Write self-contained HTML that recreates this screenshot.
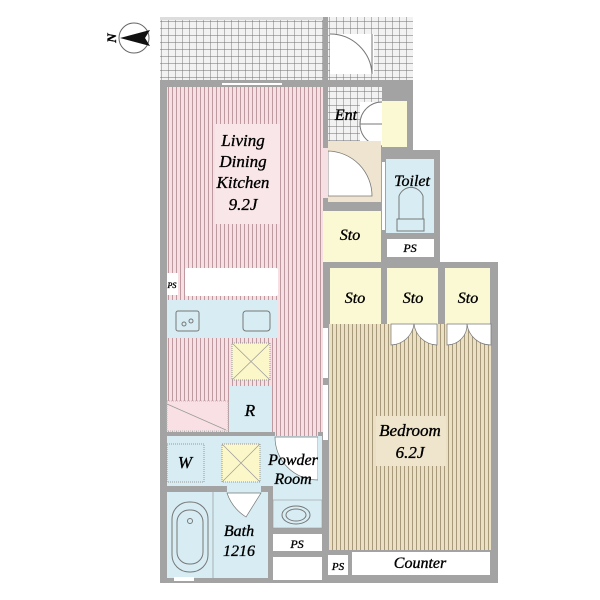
<!DOCTYPE html>
<html><head><meta charset="utf-8"><style>
html,body{margin:0;padding:0;background:#fff;}
svg{display:block;}
text{font-family:"Liberation Serif",serif;font-style:italic;fill:#000;stroke:#000;stroke-width:0.35;}
</style></head><body>
<svg width="600" height="600" viewBox="0 0 600 600" xmlns="http://www.w3.org/2000/svg">
<defs>
<pattern id="grid" width="7" height="7" patternUnits="userSpaceOnUse">
<rect width="7" height="7" fill="#f2f2f2"/><path d="M0 0H7M0 0V7" stroke="#6e6e6e" stroke-width="0.9"/>
</pattern>
<pattern id="pink" width="4" height="10" patternUnits="userSpaceOnUse">
<rect width="4" height="10" fill="#f7e0e3"/><path d="M0.5 0V10" stroke="#b08890" stroke-width="0.8"/>
</pattern>
<pattern id="beige" width="4" height="10" patternUnits="userSpaceOnUse">
<rect width="4" height="10" fill="#ece0c4"/><path d="M0.5 0V10" stroke="#958868" stroke-width="0.8"/>
</pattern>
</defs>

<!-- compass -->
<circle cx="134" cy="38" r="15" fill="#fff" stroke="#666" stroke-width="1"/>
<path d="M120 38 L150 30 L145 38 L150 46 Z" fill="#111"/>
<text x="112" y="38" font-size="13" font-style="normal" font-weight="bold" transform="rotate(-90 112 38)" text-anchor="middle" dy="4">N</text>

<!-- balcony -->
<rect x="160" y="17" width="253" height="64" fill="url(#grid)"/>
<rect x="160" y="17" width="163" height="3" fill="#ddd"/>
<rect x="323" y="17" width="5" height="70" fill="#a3a3a3"/>
<!-- ent door -->
<rect x="330" y="34" width="44" height="40" fill="#fff"/>
<path d="M330 34 A42 42 0 0 1 372 74" fill="none" stroke="#777"/>
<path d="M372 34 V74" stroke="#777"/>

<!-- walls -->
<rect x="160" y="80" width="168" height="503" fill="#a3a3a3"/>
<rect x="323" y="80" width="90" height="70" fill="#a3a3a3"/>
<rect x="381" y="150" width="59" height="118" fill="#a3a3a3"/>
<rect x="323" y="150" width="63" height="118" fill="#a3a3a3"/>
<rect x="323" y="262" width="175" height="321" fill="#a3a3a3"/>

<!-- LDK -->
<rect x="167" y="87" width="156" height="345" fill="url(#pink)"/>
<rect x="222" y="83" width="60" height="2" fill="#fff"/>
<rect x="215" y="124" width="65" height="100" fill="#f9e6e8"/>
<rect x="167" y="273" width="11" height="22" fill="#fff"/>
<rect x="185" y="268" width="93" height="28" fill="#fff" rx="2"/>
<rect x="167" y="300" width="111" height="38" fill="#d7edf3"/>
<rect x="176" y="311" width="23" height="20" fill="none" stroke="#777" rx="2"/>
<circle cx="184" cy="324" r="2" fill="none" stroke="#777"/><circle cx="191" cy="321" r="2" fill="none" stroke="#777"/>
<rect x="243" y="311" width="27" height="20" fill="none" stroke="#777" rx="3"/>
<rect x="232" y="343" width="38" height="37" fill="#fbf7c8" stroke="#999" stroke-dasharray="1 1"/>
<path d="M232 343 L270 380 M270 343 L232 380" stroke="#999" stroke-width="0.7"/>
<rect x="229" y="386" width="42" height="46" fill="#d7edf3"/>
<rect x="167" y="401" width="61" height="30" fill="#f9e0e4" stroke="#bbb" stroke-dasharray="1 1"/>
<path d="M167 404 L226 430" stroke="#999" stroke-width="0.7"/>

<!-- Ent area -->
<rect x="328" y="87" width="54" height="54" fill="url(#grid)"/>
<rect x="382" y="101" width="25" height="46" fill="#fbf9d4"/>
<rect x="360" y="102" width="22" height="44" fill="#fff"/>
<path d="M382 102 A22 22 0 0 0 360 124 L382 124 M360 124 A22 22 0 0 0 382 146" fill="none" stroke="#777"/>
<rect x="328" y="141" width="53" height="61" fill="#efe4cf"/>
<path d="M328 151 A45 45 0 0 1 372 196 L328 196 Z" fill="#fff" stroke="#777" stroke-width="0.8"/>
<rect x="323" y="148" width="5" height="50" fill="#f7e0e3"/>

<!-- Toilet -->
<rect x="386" y="159" width="48" height="74" fill="#d7edf3"/>
<rect x="382" y="162" width="3" height="68" fill="#fff"/>
<path d="M399 219 V196 A13 14 0 0 1 423 196 V219" fill="none" stroke="#777"/>
<rect x="397" y="219" width="27" height="12" fill="none" stroke="#777"/>
<rect x="387" y="239" width="47" height="18" fill="#fff"/>

<rect x="323" y="211" width="58" height="51" fill="#fbf9d4"/>

<rect x="330" y="268" width="51" height="56" fill="#fbf9d4"/>
<rect x="387" y="268" width="51" height="56" fill="#fbf9d4"/>
<rect x="445" y="268" width="45" height="56" fill="#fbf9d4"/>

<!-- Bedroom -->
<rect x="329" y="324" width="162" height="226" fill="url(#beige)"/>
<rect x="376" y="416" width="70" height="50" fill="#efe4cc"/>
<path d="M391 324 V345 A24 24 0 0 0 414 324 A24 24 0 0 0 437 345 V324 Z" fill="#fff" stroke="#777" stroke-width="0.7"/>
<path d="M447 324 V345 A20 20 0 0 0 467 324 A24 24 0 0 0 491 345 V324 Z" fill="#fff" stroke="#777" stroke-width="0.7"/>
<rect x="323" y="328" width="5" height="50" fill="#fff"/>
<rect x="323" y="385" width="5" height="55" fill="#fff"/>
<rect x="352" y="552" width="138" height="23" fill="#fff"/>
<rect x="328" y="555" width="20" height="20" fill="#fff"/>

<!-- Powder -->
<rect x="275" y="432" width="43" height="4" fill="url(#pink)"/>
<rect x="167" y="436" width="151" height="50" fill="#d7edf3"/>
<rect x="273" y="436" width="49" height="64" fill="#d7edf3"/>
<rect x="167" y="444" width="37" height="38" fill="none" stroke="#999" stroke-dasharray="1 1"/>
<rect x="222" y="444" width="38" height="38" fill="#fbf7c8" stroke="#999" stroke-dasharray="1 1"/>
<path d="M222 444 L260 482 M260 444 L222 482" stroke="#999" stroke-width="0.7"/>
<path d="M275 437 A43 43 0 0 0 318 480 V437 Z" fill="#fff" stroke="#777" stroke-width="0.7"/>
<rect x="318" y="436" width="4" height="64" fill="#d7edf3"/>

<!-- Bath -->
<rect x="167" y="492" width="101" height="86" fill="#d7edf3"/>
<rect x="227" y="486" width="34" height="8" fill="#d7edf3"/>
<path d="M227 493 Q232 508 246 517 L261 493 Z" fill="#fff" stroke="#777" stroke-width="0.7"/>
<path d="M213 492 V578" stroke="#888" stroke-width="0.6"/>
<rect x="172" y="502" width="36" height="70" rx="17" fill="none" stroke="#777"/>
<rect x="177" y="510" width="26" height="54" rx="12" fill="none" stroke="#777"/>
<circle cx="190" cy="521" r="2.5" fill="none" stroke="#777"/>
<rect x="273" y="500" width="49" height="28" fill="#d7edf3" stroke="#999" stroke-width="0.6"/>
<ellipse cx="296" cy="515" rx="14" ry="9" fill="none" stroke="#777"/>
<ellipse cx="296" cy="515" rx="10" ry="6" fill="none" stroke="#777"/>
<rect x="273" y="534" width="49" height="17" fill="#fff"/>
<rect x="273" y="557" width="49" height="23" fill="#fff"/>
<rect x="174" y="577" width="20" height="4" fill="#fff"/>

<!-- labels -->
<g font-size="17" text-anchor="middle">
<text x="243" y="146">Living</text>
<text x="243" y="167">Dining</text>
<text x="243" y="188">Kitchen</text>
<text x="243" y="210">9.2J</text>
<text x="346" y="120" font-size="16">Ent</text>
<text x="412" y="186" font-size="16">Toilet</text>
<text x="350" y="240" font-size="16">Sto</text>
<text x="355" y="303" font-size="16">Sto</text>
<text x="413" y="303" font-size="16">Sto</text>
<text x="468" y="303" font-size="16">Sto</text>
<text x="410" y="436">Bedroom</text>
<text x="410" y="458">6.2J</text>
<text x="250" y="416">R</text>
<text x="185" y="468">W</text>
<text x="293" y="465" font-size="16">Powder</text>
<text x="293" y="484" font-size="16">Room</text>
<text x="239" y="536" font-size="16">Bath</text>
<text x="239" y="556" font-size="16">1216</text>
<text x="420" y="568" font-size="16">Counter</text>
<text x="410" y="252" font-size="12">PS</text>
<text x="297" y="548" font-size="12">PS</text>
<text x="338" y="570" font-size="11">PS</text>
<text x="172" y="288" font-size="8">PS</text>
</g>
</svg>
</body></html>
